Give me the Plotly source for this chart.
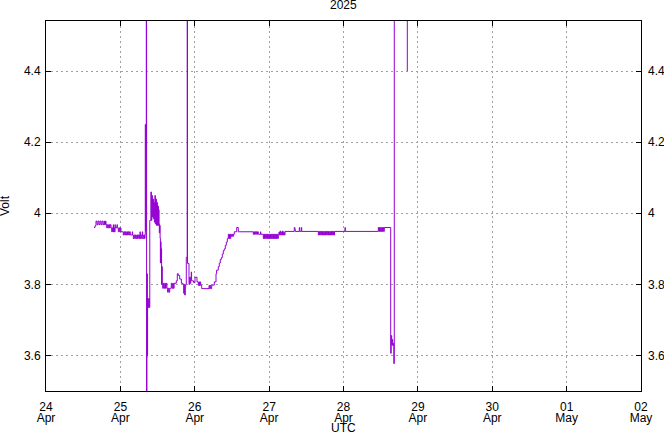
import plotly.graph_objects as go
from datetime import datetime, timedelta

# Readings: hours after midnight (UTC) of each day, and battery voltage
apr24_hours = [15.49, 15.81, 16.13, 16.46, 16.78, 17.10, 17.43, 17.75, 18.07, 18.39,
               18.72, 18.88, 19.20, 19.36, 19.59, 19.81, 20.04, 20.26, 20.49, 20.72,
               20.97, 21.20, 21.43, 21.65, 21.72, 21.81, 22.04, 22.14, 22.27, 22.36,
               22.91, 23.01, 23.33, 23.56, 23.78, 23.98]
apr24_volts = [3.960, 3.965, 3.978, 3.968, 3.978, 3.968, 3.978, 3.968, 3.978, 3.968,
               3.978, 3.968, 3.978, 3.968, 3.959, 3.968, 3.959, 3.968, 3.959, 3.968,
               3.959, 3.948, 3.959, 3.948, 3.968, 3.948, 3.959, 3.948, 3.968, 3.959,
               3.968, 3.959, 3.948, 3.959, 3.948, 3.959]

apr25_hours = [0.20, 0.94, 1.17, 1.40, 1.62, 1.85, 2.07, 2.30, 2.53, 2.75,
               2.98, 3.20, 3.85, 3.95, 4.17, 4.40, 4.63, 4.85, 5.08, 5.30,
               5.53, 5.75, 5.98, 6.20, 6.33, 6.43, 6.66, 6.88, 7.08, 7.18,
               7.40, 7.63, 7.82, 7.95,
               8.04, 8.17, 8.27, 8.37, 8.46, 8.56, 8.62, 8.69, 8.78, 9.00,
               9.17, 9.33, 9.49, 9.85, 10.01, 10.17, 10.33, 10.49, 10.66, 10.82,
               10.98, 11.14, 11.30, 11.46, 11.63, 11.79, 11.95, 12.11, 12.27, 12.37,
               12.46, 12.56, 12.69, 12.82, 12.91, 13.01, 13.11, 13.21, 13.30, 13.40,
               13.50, 13.66, 13.89, 14.11, 14.34, 14.56, 14.79, 15.02, 15.24, 15.47,
               15.69, 15.92, 16.43, 16.66, 16.88, 17.11, 17.34, 18.05, 18.37, 18.69,
               19.14, 19.69, 20.21, 20.43, 20.59, 20.75, 20.95, 21.07, 21.27, 21.56,
               21.66, 22.14, 22.37, 22.53, 22.69, 22.88, 22.98, 23.60]
apr25_volts = [3.948, 3.939, 3.948, 3.939, 3.948, 3.939, 3.948, 3.939, 3.948, 3.939,
               3.948, 3.939, 3.948, 3.939, 3.929, 3.939, 3.929, 3.939, 3.929, 3.939,
               3.929, 3.939, 3.929, 3.939, 3.948, 3.929, 3.939, 3.929, 3.948, 3.939,
               3.929, 3.939, 3.929, 3.940,
               4.250, 3.950, 4.200, 5.000, 3.000, 3.594, 3.830, 3.600, 3.760, 3.735,
               3.760, 3.735, 3.980, 4.060, 3.980, 4.050, 3.990, 4.040, 3.985, 4.030,
               3.975, 4.050, 3.970, 4.040, 3.966, 4.030, 3.966, 4.020, 3.966, 4.010,
               3.970, 3.945, 3.966, 3.930, 3.860, 3.920, 3.862, 3.900, 3.800, 3.850,
               3.803, 3.789, 3.803, 3.789, 3.803, 3.789, 3.803, 3.789, 3.778, 3.789,
               3.778, 3.789, 3.803, 3.789, 3.803, 3.789, 3.803, 3.810, 3.830, 3.825,
               3.815, 3.803, 3.800, 3.775, 3.800, 3.770, 3.790, 3.800, 3.876, 5.000,
               3.859, 3.800, 3.820, 3.803, 3.820, 3.835, 3.810, 3.805]

apr26_hours = [0.08, 0.73, 1.15, 1.34, 1.53, 1.73, 1.92, 2.24, 4.60, 4.79,
               4.99, 5.18, 5.47, 6.31, 6.86, 7.05, 7.60, 7.92, 8.24, 8.57,
               8.89, 9.21, 9.54, 9.86, 10.18, 10.51, 10.83, 11.02, 11.21, 11.41,
               11.60, 11.79, 12.02, 12.25, 12.47, 12.76, 13.54, 14.05, 18.89, 19.09,
               19.28, 19.48, 19.67, 19.86, 20.06, 20.25, 20.51, 21.22, 21.31, 22.12,
               22.31, 22.51, 22.70, 22.89, 23.09, 23.28, 23.47, 23.67, 23.86]
apr26_volts = [3.820, 3.807, 3.797, 3.807, 3.797, 3.807, 3.797, 3.788, 3.797, 3.788,
               3.797, 3.788, 3.798, 3.807, 3.830, 3.840, 3.850, 3.860, 3.870, 3.875,
               3.885, 3.895, 3.900, 3.910, 3.919, 3.929, 3.941, 3.929, 3.941, 3.929,
               3.941, 3.935, 3.941, 3.935, 3.941, 3.948, 3.960, 3.948, 3.941, 3.948,
               3.941, 3.948, 3.941, 3.948, 3.941, 3.948, 3.941, 3.948, 3.941, 3.929,
               3.941, 3.929, 3.941, 3.929, 3.941, 3.929, 3.941, 3.929, 3.941]

apr27_hours = [0.06, 0.25, 0.44, 0.64, 0.83, 1.02, 1.22, 1.41, 1.61, 1.80,
               1.99, 2.19, 2.38, 2.57, 2.77, 2.96, 3.16, 3.35, 3.54, 3.74,
               3.93, 4.12, 4.32, 4.51, 4.70, 4.90, 5.12, 8.12, 8.32, 8.45,
               9.74, 9.87, 10.39, 10.52, 15.88, 16.07, 16.27, 16.46, 16.65, 16.85,
               17.04, 17.23, 17.43, 17.62, 17.81, 18.01, 18.20, 18.39, 18.59, 18.78,
               18.98, 19.17, 19.36, 19.56, 19.75, 19.94, 20.14, 20.33, 20.52, 20.72,
               20.91, 21.10]
apr27_volts = [3.929, 3.941, 3.929, 3.941, 3.929, 3.941, 3.929, 3.941, 3.929, 3.941,
               3.929, 3.941, 3.929, 3.941, 3.929, 3.939, 3.947, 3.939, 3.950, 3.939,
               3.947, 3.939, 3.950, 3.939, 3.947, 3.939, 3.949, 3.960, 3.955, 3.949,
               3.960, 3.949, 3.960, 3.949, 3.939, 3.949, 3.939, 3.949, 3.939, 3.949,
               3.939, 3.949, 3.939, 3.949, 3.939, 3.949, 3.939, 3.949, 3.939, 3.949,
               3.939, 3.949, 3.939, 3.949, 3.939, 3.949, 3.939, 3.949, 3.939, 3.949,
               3.939, 3.949]

apr28_hours = [0.48, 0.58, 11.23, 11.42, 11.62, 11.81, 12.00, 12.20, 12.39, 12.58,
               12.78, 12.97, 13.16, 15.23, 15.39, 15.55, 15.72, 15.88, 16.07, 16.23,
               16.39, 20.59]
apr28_volts = [3.960, 3.949, 3.960, 3.949, 3.960, 3.949, 3.960, 3.949, 3.960, 3.949,
               3.960, 3.949, 3.960, 3.606, 3.656, 3.630, 3.645, 3.628, 3.634, 3.577,
               5.000, 4.400]

day_starts = ["2025-04-24", "2025-04-25", "2025-04-26", "2025-04-27", "2025-04-28"]

x_tick_dates = ["2025-04-24", "2025-04-25", "2025-04-26", "2025-04-27", "2025-04-28",
                "2025-04-29", "2025-04-30", "2025-05-01", "2025-05-02"]
x_tick_days = ["24", "25", "26", "27", "28", "29", "30", "01", "02"]
x_tick_months = ["Apr", "Apr", "Apr", "Apr", "Apr", "Apr", "Apr", "May", "May"]
y_tick_values = [3.6, 3.8, 4.0, 4.2, 4.4]
y_tick_labels = ["3.6", "3.8", "4", "4.2", "4.4"]

days = [(apr24_hours, apr24_volts), (apr25_hours, apr25_volts), (apr26_hours, apr26_volts),
        (apr27_hours, apr27_volts), (apr28_hours, apr28_volts)]

times, volts = [], []
for start, (hrs, vals) in zip(day_starts, days):
    base = datetime.strptime(start, "%Y-%m-%d")
    n = min(len(hrs), len(vals))
    for h, v in zip(hrs[:n], vals[:n]):
        times.append((base + timedelta(hours=h)).strftime("%Y-%m-%d %H:%M:%S"))
        volts.append(v)

FONT = "Liberation Sans, Arial, sans-serif"
FS = 12
Y_RANGE = [3.5, 4.541]
X_RANGE = [x_tick_dates[0], x_tick_dates[-1]]
tickfont = dict(family=FONT, size=FS, color="black")

fig = go.Figure()
fig.add_trace(go.Scatter(x=times, y=volts, mode="lines",
                         line=dict(color="#9400d3", width=1, shape="hv"),
                         showlegend=False, hoverinfo="x+y"))
# invisible helper trace so the secondary (label-only) axes are drawn
fig.add_trace(go.Scatter(x=times[:1], y=volts[:1], xaxis="x2", yaxis="y2", mode="lines",
                         line=dict(color="rgba(0,0,0,0)"), showlegend=False,
                         hoverinfo="skip"))

grid = dict(showgrid=True, gridcolor="#a0a0a0", gridwidth=1, griddash="2px,3px")
common = dict(ticks="inside", ticklen=5, tickcolor="black", tickwidth=1,
              showline=True, linecolor="black", linewidth=1, mirror="ticks",
              zeroline=False, automargin=False, tickfont=tickfont)
label_only = dict(ticks="", showgrid=False, showline=False, zeroline=False,
                  automargin=False, tickfont=tickfont)

fig.update_layout(
    template="none",
    width=664, height=432,
    margin=dict(l=46, r=23, t=21, b=41, pad=0, autoexpand=False),
    paper_bgcolor="white", plot_bgcolor="white",
    font=dict(family=FONT, size=FS, color="black"),
    xaxis=dict(type="date", range=X_RANGE, tickmode="array", tickvals=x_tick_dates,
               ticktext=x_tick_days, ticklabelstandoff=5, **grid, **common),
    xaxis2=dict(type="date", range=X_RANGE, overlaying="x", anchor="y", side="bottom",
                tickmode="array", tickvals=x_tick_dates, ticktext=x_tick_months,
                ticklabelstandoff=18, **label_only),
    yaxis=dict(range=Y_RANGE, tickmode="array", tickvals=y_tick_values,
               ticktext=y_tick_labels, ticklabelstandoff=2, **grid, **common),
    yaxis2=dict(range=Y_RANGE, overlaying="y", anchor="x", side="right", tickmode="array",
                tickvals=y_tick_values, ticktext=y_tick_labels, ticklabelstandoff=6,
                **label_only),
    annotations=[
        dict(text="2025", xref="paper", yref="paper", x=0.5, y=1, xanchor="center",
             yanchor="middle", yshift=16, showarrow=False, font=tickfont),
        dict(text="UTC", xref="paper", yref="paper", x=0.5, y=0, xanchor="center",
             yanchor="middle", yshift=-37, showarrow=False, font=tickfont),
        dict(text="Volt", xref="paper", yref="paper", x=0, y=0.5, xanchor="center",
             yanchor="middle", xshift=-41, textangle=-90, showarrow=False,
             font=tickfont),
    ],
)

fig.write_html("out.html", config={"displayModeBar": False},
               post_script="document.body.style.margin='0';")
